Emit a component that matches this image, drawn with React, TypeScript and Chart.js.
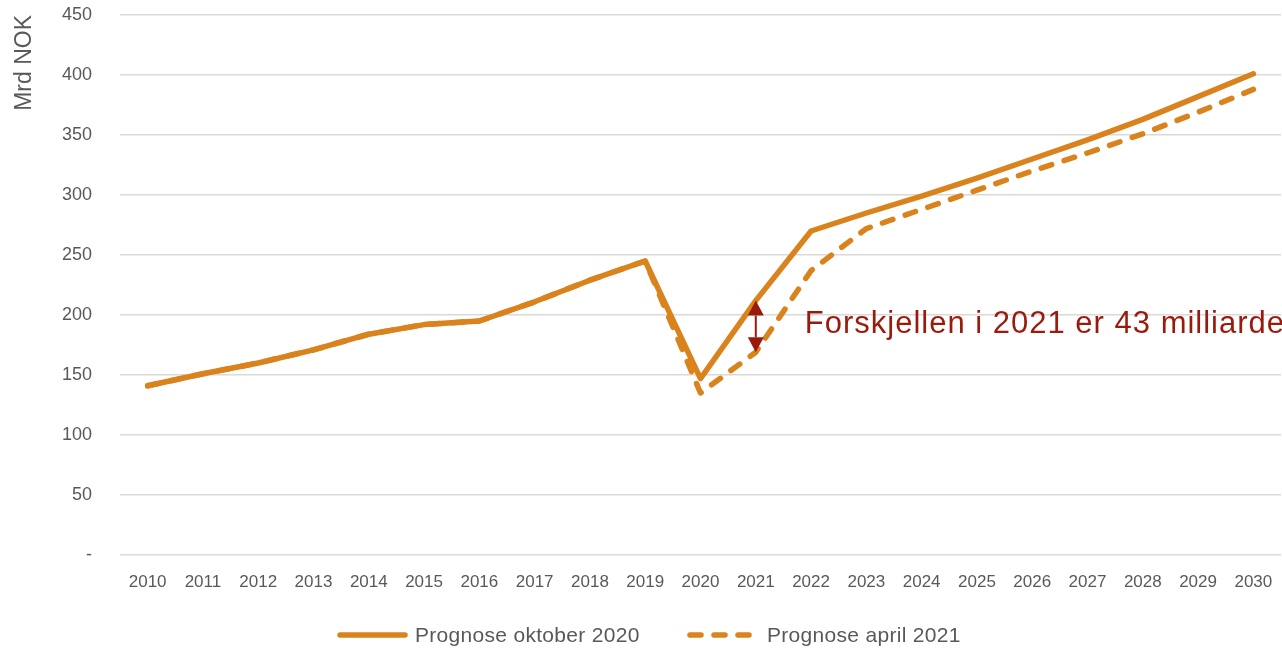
import React, { useEffect, useRef } from 'react';
import { Chart, registerables } from 'chart.js';

Chart.register(...registerables);

const years = ['2010','2011','2012','2013','2014','2015','2016','2017','2018','2019','2020','2021','2022','2023','2024','2025','2026','2027','2028','2029','2030'];
const oktober2020 = [141,151,160,171,184,192,195,211,229,245,147,212,270,285,299,314,330,346,363,382,401];
const april2021 = [141,151,160,171,184,192,195,211,229,245,135,169,237,272,288,304,320,335,351,369,388];
const seriesNames = ['Prognose oktober 2020', 'Prognose april 2021'];
const yTicks = [0,50,100,150,200,250,300,350,400,450];
const yTitle = 'Mrd NOK';
const annotationText = 'Forskjellen i 2021 er 43 milliarder';
const annotationIndex = 11;
const annotationTextValue = 192;

const ORANGE = '#DA821C';
const DARKRED = '#9A1A0C';
const GREY = '#595959';
const FONT = "'Liberation Sans', Arial, sans-serif";
const DASH = [11, 13];

const annotationPlugin = {
  id: 'diffAnnotation',
  afterDatasetsDraw(chart: any) {
    const { ctx, scales } = chart;
    const x = scales.x, y = scales.y;
    const px = x.getPixelForValue(annotationIndex);
    const yTop = y.getPixelForValue(oktober2020[annotationIndex]);
    const yBot = y.getPixelForValue(april2021[annotationIndex]);
    const ah = 15, aw = 8;
    ctx.save();
    ctx.strokeStyle = DARKRED;
    ctx.fillStyle = DARKRED;
    ctx.lineWidth = 2;
    ctx.beginPath();
    ctx.moveTo(px, yTop + ah);
    ctx.lineTo(px, yBot - ah);
    ctx.stroke();
    ctx.beginPath();
    ctx.moveTo(px, yTop);
    ctx.lineTo(px - aw, yTop + ah);
    ctx.lineTo(px + aw, yTop + ah);
    ctx.closePath();
    ctx.fill();
    ctx.beginPath();
    ctx.moveTo(px, yBot);
    ctx.lineTo(px - aw, yBot - ah);
    ctx.lineTo(px + aw, yBot - ah);
    ctx.closePath();
    ctx.fill();
    ctx.font = `31px ${FONT}`;
    (ctx as any).letterSpacing = '1px';
    ctx.textBaseline = 'middle';
    ctx.textAlign = 'left';
    ctx.fillText(annotationText, px + 49, y.getPixelForValue(annotationTextValue));
    ctx.restore();
  },
};

const legendPlugin = {
  id: 'customLegend',
  afterDraw(chart: any) {
    const { ctx } = chart;
    const items = [
      { x: 340, len: 65, dash: [] as number[] },
      { x: 690, len: 59, dash: DASH },
    ];
    const cy = 635;
    ctx.save();
    chart.data.datasets.forEach((ds: any, i: number) => {
      const it = items[i];
      ctx.strokeStyle = ds.borderColor;
      ctx.lineWidth = 5.5;
      ctx.lineCap = 'round';
      ctx.setLineDash(it.dash);
      ctx.beginPath();
      ctx.moveTo(it.x, cy);
      ctx.lineTo(it.x + it.len, cy);
      ctx.stroke();
      ctx.setLineDash([]);
      ctx.fillStyle = GREY;
      ctx.font = `21px ${FONT}`;
      (ctx as any).letterSpacing = '0.3px';
      ctx.textBaseline = 'middle';
      ctx.textAlign = 'left';
      ctx.fillText(ds.label, i === 0 ? 415 : 767, cy + 1);
    });
    ctx.restore();
  },
};

export default function App() {
  const ref = useRef<HTMLCanvasElement>(null);
  useEffect(() => {
    if (!ref.current) return;
    const chart = new Chart(ref.current, {
      type: 'line',
      data: {
        labels: years,
        datasets: [
          {
            label: seriesNames[0],
            data: oktober2020,
            borderColor: ORANGE,
            backgroundColor: ORANGE,
            borderWidth: 5.5,
            pointRadius: 0,
            borderCapStyle: 'round',
            borderJoinStyle: 'round',
            tension: 0,
          },
          {
            label: seriesNames[1],
            data: april2021,
            borderColor: ORANGE,
            backgroundColor: ORANGE,
            borderWidth: 5.5,
            borderDash: DASH,
            pointRadius: 0,
            borderCapStyle: 'round',
            borderJoinStyle: 'round',
            tension: 0,
          },
        ],
      },
      options: {
        animation: false,
        responsive: true,
        maintainAspectRatio: false,
        layout: { padding: { top: 15, bottom: 58, left: 0, right: 1 } },
        plugins: {
          legend: { display: false },
          tooltip: { enabled: false },
        },
        scales: {
          x: {
            offset: true,
            afterFit: (s: any) => { s.height = 35; s.paddingLeft = 0; s.paddingRight = 0; },
            grid: { display: false, drawTicks: false },
            border: { display: false },
            ticks: { color: GREY, font: { family: FONT, size: 17 }, padding: 17, maxRotation: 0, autoSkip: false },
          },
          y: {
            min: 0,
            max: 450,
            afterFit: (s: any) => { s.width = 120; s.paddingTop = 0; s.paddingBottom = 0; },
            afterBuildTicks: (s: any) => { s.ticks = yTicks.map((v) => ({ value: v })); },
            grid: { color: '#D9D9D9', lineWidth: 1.5, drawTicks: false },
            border: { display: false },
            ticks: {
              color: GREY,
              font: { family: FONT, size: 18 },
              padding: 28,
              callback: (v: any) => (v === 0 ? '-' : String(v)),
            },
            title: {
              display: true,
              text: yTitle,
              align: 'end',
              color: GREY,
              font: { family: FONT, size: 23 },
              padding: { top: 11, bottom: 0 },
            },
          },
        },
      },
      plugins: [annotationPlugin, legendPlugin],
    });
    return () => chart.destroy();
  }, []);
  return (
    <div style={{ position: 'fixed', left: 0, top: 0, width: 1282, height: 648 }}>
      <canvas ref={ref} />
    </div>
  );
}
